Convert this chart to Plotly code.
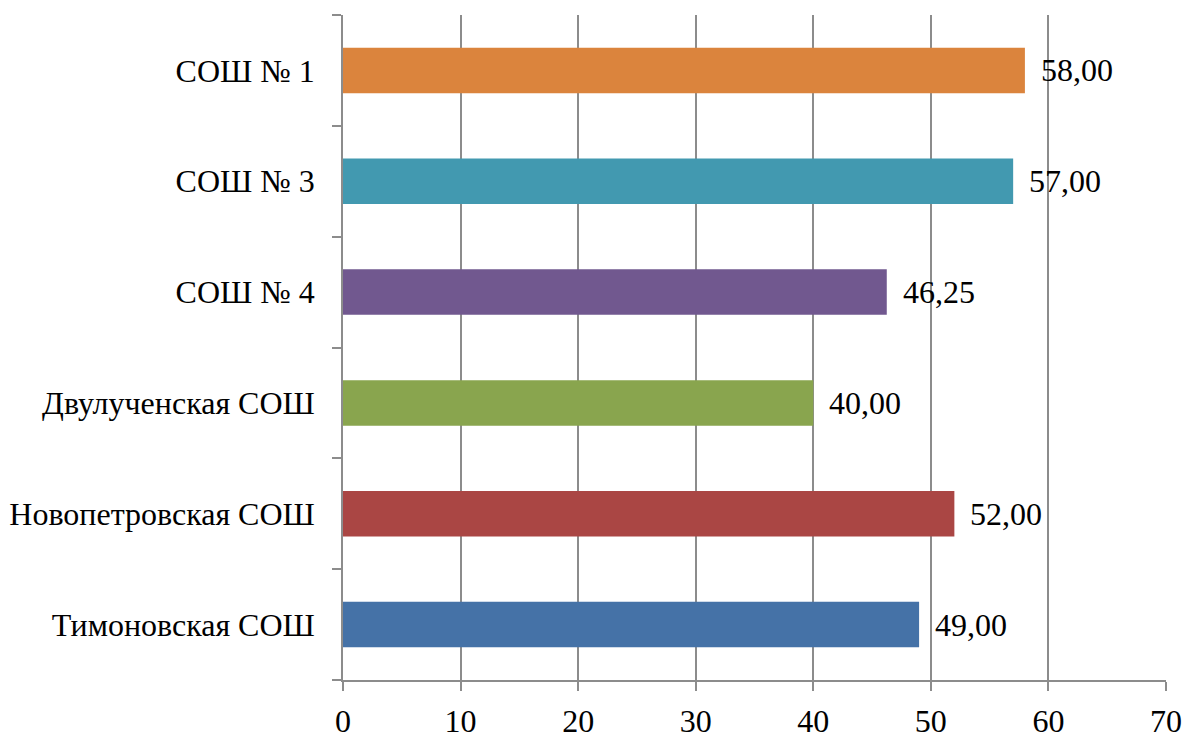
import plotly.graph_objects as go

categories = ["Тимоновская СОШ", "Новопетровская СОШ", "Двулученская СОШ",
              "СОШ № 4", "СОШ № 3", "СОШ № 1"]
values = [49.00, 52.00, 40.00, 46.25, 57.00, 58.00]
value_labels = ["49,00", "52,00", "40,00", "46,25", "57,00", "58,00"]
colors = ["#4572A7", "#AA4644", "#89A54E", "#71588F", "#4299B0", "#DB843D"]
x_ticks = [0, 10, 20, 30, 40, 50, 60, 70]

FONT = "Liberation Serif"
FS = 32

fig = go.Figure()
fig.add_trace(go.Bar(
    y=categories, x=values, orientation="h",
    marker=dict(color=colors, line=dict(width=0)),
    width=0.41, hoverinfo="skip",
))

for c, v, t in zip(categories, values, value_labels):
    fig.add_annotation(x=v, y=c, text=t, showarrow=False, xanchor="left",
                       yanchor="middle", xshift=14,
                       font=dict(family=FONT, size=FS, color="black"))

fig.update_layout(
    width=1185, height=733,
    margin=dict(l=343, r=19, t=15, b=53),
    plot_bgcolor="white", paper_bgcolor="white",
    showlegend=False,
    font=dict(family=FONT, size=FS, color="black"),
)
fig.update_xaxes(
    range=[0, 70], tickvals=x_ticks, ticktext=[str(v) for v in x_ticks],
    showgrid=True, gridcolor="#8C8C8C", gridwidth=1.5,
    showline=True, linecolor="#8C8C8C", linewidth=1.5,
    ticks="outside", ticklen=9, tickcolor="#8C8C8C", tickwidth=1.5,
    zeroline=False, ticklabelstandoff=3, automargin=False,
    tickfont=dict(family=FONT, size=FS),
)
fig.update_yaxes(
    categoryorder="array", categoryarray=categories,
    showline=True, linecolor="#8C8C8C", linewidth=1.5,
    ticks="outside", ticklen=9, tickcolor="#8C8C8C", tickwidth=1.5,
    tickson="boundaries", showgrid=False, ticklabelstandoff=20,
    range=[-0.5, 5.5], automargin=False,
    tickfont=dict(family=FONT, size=FS),
)

fig.write_html("out.html", config={"displayModeBar": False},
               post_script="document.body.style.margin='0';document.body.style.overflow='hidden';")
